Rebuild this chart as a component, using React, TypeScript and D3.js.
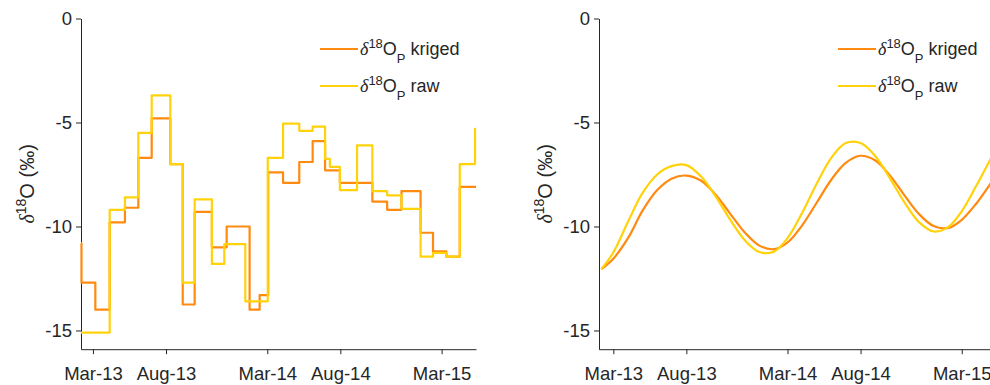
import * as d3 from "d3"
import { useEffect, useRef } from "react"

// Step series (left panel) - date the value starts, value in permil
const krigedStepDates = ["2013-02-04", "2013-02-05", "2013-03-06", "2013-04-05", "2013-05-07", "2013-06-04", "2013-07-02", "2013-08-10", "2013-09-05", "2013-09-30", "2013-11-05", "2013-12-06", "2014-01-23", "2014-02-13", "2014-03-03", "2014-04-03", "2014-05-07", "2014-06-04", "2014-06-30", "2014-07-31", "2014-10-07", "2014-11-07", "2014-12-07", "2015-01-16", "2015-02-11", "2015-03-11", "2015-04-08", "2015-05-12"]
const krigedStepValues = [-10.8, -12.7, -14.0, -9.8, -9.1, -6.7, -4.8, -7.0, -13.75, -9.3, -11.0, -10.0, -14.0, -13.3, -7.4, -7.9, -6.9, -5.9, -7.3, -7.9, -8.8, -9.2, -8.3, -10.3, -11.2, -11.45, -8.1, -8.1]

const rawStepDates = ["2013-02-04", "2013-04-05", "2013-05-07", "2013-06-04", "2013-07-02", "2013-08-10", "2013-09-05", "2013-09-30", "2013-11-05", "2013-12-01", "2014-01-14", "2014-03-02", "2014-04-03", "2014-05-07", "2014-06-04", "2014-06-30", "2014-07-10", "2014-07-31", "2014-09-05", "2014-10-07", "2014-11-07", "2014-12-07", "2015-01-16", "2015-02-11", "2015-03-11", "2015-04-08", "2015-05-10", "2015-05-12"]
const rawStepValues = [-15.1, -9.2, -8.6, -5.5, -3.7, -7.0, -12.7, -8.7, -11.8, -10.85, -13.6, -6.7, -5.05, -5.4, -5.2, -6.75, -7.13, -8.25, -6.1, -8.3, -8.5, -9.15, -11.45, -11.27, -11.45, -7.0, -5.3, -5.3]

// Smoothed series (right panel)
const smoothDates = ["2013-02-04", "2013-03-01", "2013-04-01", "2013-05-01", "2013-06-01", "2013-07-01", "2013-08-01", "2013-09-01", "2013-10-01", "2013-11-01", "2013-12-01", "2014-01-01", "2014-02-01", "2014-03-01", "2014-04-01", "2014-05-01", "2014-06-01", "2014-07-01", "2014-08-01", "2014-09-01", "2014-10-01", "2014-11-01", "2014-12-01", "2015-01-01", "2015-02-01", "2015-03-01", "2015-04-01", "2015-05-01", "2015-05-08"]
const krigedSmooth = [-12.05, -11.55, -10.55, -9.25, -8.25, -7.7, -7.55, -7.8, -8.46, -9.39, -10.28, -10.92, -11.09, -10.77, -9.93, -8.86, -7.74, -6.94, -6.6, -6.83, -7.53, -8.5, -9.39, -9.98, -10.07, -9.68, -8.88, -7.91, -7.69]
const rawSmooth = [-12.05, -11.25, -9.76, -8.4, -7.5, -7.1, -7.05, -7.6, -8.54, -9.68, -10.65, -11.23, -11.2, -10.56, -9.33, -7.95, -6.69, -5.99, -5.99, -6.62, -7.66, -8.84, -9.78, -10.24, -10.02, -9.27, -8.02, -6.73, -6.45]

const xTickDates = ["2013-03-01", "2013-08-01", "2014-03-01", "2014-08-01", "2015-03-01"]
const xTickLabels = ["Mar-13", "Aug-13", "Mar-14", "Aug-14", "Mar-15"]
const yTicks = [0, -5, -10, -15]
const seriesNames = ["kriged", "raw"]

const KRIGED = "#ff8a10"
const RAW = "#ffd20a"
const AXIS = "#262626"
const FONT = "'Liberation Sans', Arial, sans-serif"

const parse = d3.timeParse("%Y-%m-%d")

type Pt = { date: Date; v: number }
const zip = (dates: string[], vals: number[]): Pt[] =>
  dates.map((d, i) => ({ date: parse(d) as Date, v: vals[i] }))

const App = () => {
  const svgRef = useRef<SVGSVGElement | null>(null)

  useEffect(() => {
    if (!svgRef.current) return
    const root = d3.select(svgRef.current)
    root.selectAll("*").remove()

    const y = d3.scaleLinear().domain([-15.9, 0]).range([349.2, 18.5])

    const panels = [
      {
        left: 81,
        right: 476,
        domain: ["2013-02-04", "2015-05-12"],
        series: [zip(krigedStepDates, krigedStepValues), zip(rawStepDates, rawStepValues)],
        curve: d3.curveStepAfter
      },
      {
        left: 599,
        right: 994.2,
        domain: ["2013-01-30", "2015-05-08"],
        series: [zip(smoothDates, krigedSmooth), zip(smoothDates, rawSmooth)],
        curve: d3.curveCatmullRom
      }
    ]

    panels.forEach(p => {
      const g = root.append("g")
      const x = d3
        .scaleTime()
        .domain(p.domain.map(d => parse(d) as Date))
        .range([p.left, p.right])

      // axes
      const yAxis = g
        .append("g")
        .attr("transform", `translate(${p.left},0)`)
        .call(
          d3.axisLeft(y).tickValues(yTicks).tickSize(5).tickSizeOuter(0).tickPadding(4).tickFormat(d => `${d}`)
        )
      const xAxis = g
        .append("g")
        .attr("transform", `translate(0,${y.range()[0]})`)
        .call(
          d3
            .axisBottom(x)
            .tickValues(xTickDates.map(d => parse(d) as Date))
            .tickFormat((_d, i) => xTickLabels[i])
            .tickSize(5)
            .tickSizeOuter(0)
            .tickPadding(13)
        )
      ;[yAxis, xAxis].forEach(a => {
        a.select(".domain").attr("stroke", AXIS).attr("stroke-width", 1)
        a.selectAll(".tick line").attr("stroke", AXIS)
        a.selectAll(".tick text")
          .attr("fill", AXIS)
          .style("font-family", FONT)
          .style("font-size", "18.5px")
      })

      // y label
      const lbl = g
        .append("text")
        .attr("transform", `translate(${p.left - 47},${(y.range()[0] + y.range()[1]) / 2}) rotate(-90)`)
        .attr("text-anchor", "middle")
        .attr("fill", AXIS)
        .style("font-family", FONT)
        .style("font-size", "20px")
        .style("white-space", "pre")
      lbl.append("tspan").style("font-family", "'Liberation Serif', serif").style("font-style", "italic").text("δ")
      lbl.append("tspan").attr("dy", -8).style("font-size", "14px").text("18")
      lbl.append("tspan").attr("dy", 8).text("O (‰)")

      // lines
      const colors = [KRIGED, RAW]
      p.series.forEach((s, i) => {
        const line = d3
          .line<Pt>()
          .x(d => x(d.date))
          .y(d => y(d.v))
          .curve(p.curve)
        g.append("path")
          .datum(s)
          .attr("d", line)
          .attr("fill", "none")
          .attr("stroke", colors[i])
          .attr("stroke-width", 2.2)
          .attr("stroke-linejoin", "round")
      })

      // legend
      seriesNames.forEach((name, i) => {
        const ly = 49 + i * 37
        g.append("line")
          .attr("x1", p.left + 239)
          .attr("x2", p.left + 277)
          .attr("y1", ly)
          .attr("y2", ly)
          .attr("stroke", colors[i])
          .attr("stroke-width", 2.2)
        const t = g
          .append("text")
          .attr("x", p.left + 279)
          .attr("y", ly + 6)
          .attr("fill", AXIS)
          .style("font-family", FONT)
          .style("font-size", "18px")
          .style("white-space", "pre")
        t.append("tspan").style("font-family", "'Liberation Serif', serif").style("font-style", "italic").text("δ")
        t.append("tspan").attr("dy", -7).style("font-size", "13px").text("18")
        t.append("tspan").attr("dy", 7).text("O")
        t.append("tspan").attr("dy", 8).style("font-size", "13px").text("P")
        t.append("tspan").attr("dy", -8).text(` ${name}`)
      })
    })
  }, [])

  return (
    <svg
      ref={svgRef}
      width={990}
      height={385}
      style={{ position: "absolute", left: 0, top: 0, background: "#fff" }}
    />
  )
}

export default App
